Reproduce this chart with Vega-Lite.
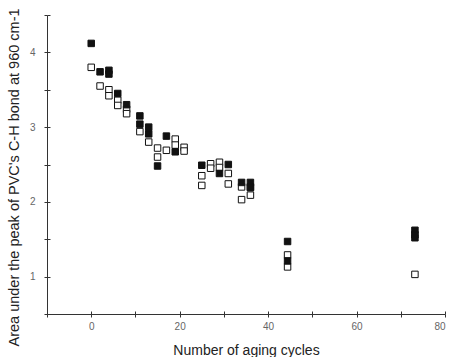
{
  "$schema": "https://vega.github.io/schema/vega-lite/v6.json",
  "width": 398,
  "height": 299,
  "autosize": {"type": "none"},
  "padding": {"left": 47, "top": 15, "right": 6, "bottom": 43},
  "background": "white",
  "config": {
    "view": {"stroke": null},
    "font": "Liberation Sans",
    "axis": {"grid": false, "domainColor": "#333", "tickColor": "#333", "labelColor": "#666", "titleColor": "#222", "labelFont": "Liberation Sans", "titleFont": "Liberation Sans", "titleFontWeight": "normal"}
  },
  "data": {
    "values": [
      {"cycle": 0, "area": 3.80, "type": "open"},
      {"cycle": 2, "area": 3.55, "type": "open"},
      {"cycle": 4, "area": 3.50, "type": "open"},
      {"cycle": 4, "area": 3.42, "type": "open"},
      {"cycle": 6, "area": 3.36, "type": "open"},
      {"cycle": 6, "area": 3.29, "type": "open"},
      {"cycle": 8, "area": 3.24, "type": "open"},
      {"cycle": 8, "area": 3.18, "type": "open"},
      {"cycle": 11, "area": 2.94, "type": "open"},
      {"cycle": 13, "area": 2.80, "type": "open"},
      {"cycle": 15, "area": 2.72, "type": "open"},
      {"cycle": 15, "area": 2.60, "type": "open"},
      {"cycle": 17, "area": 2.69, "type": "open"},
      {"cycle": 19, "area": 2.84, "type": "open"},
      {"cycle": 19, "area": 2.76, "type": "open"},
      {"cycle": 21, "area": 2.73, "type": "open"},
      {"cycle": 21, "area": 2.68, "type": "open"},
      {"cycle": 25, "area": 2.35, "type": "open"},
      {"cycle": 25, "area": 2.22, "type": "open"},
      {"cycle": 27, "area": 2.51, "type": "open"},
      {"cycle": 27, "area": 2.45, "type": "open"},
      {"cycle": 29, "area": 2.53, "type": "open"},
      {"cycle": 29, "area": 2.46, "type": "open"},
      {"cycle": 31, "area": 2.38, "type": "open"},
      {"cycle": 31, "area": 2.24, "type": "open"},
      {"cycle": 34, "area": 2.20, "type": "open"},
      {"cycle": 34, "area": 2.03, "type": "open"},
      {"cycle": 36, "area": 2.20, "type": "open"},
      {"cycle": 36, "area": 2.09, "type": "open"},
      {"cycle": 44.4, "area": 1.29, "type": "open"},
      {"cycle": 44.4, "area": 1.13, "type": "open"},
      {"cycle": 73.2, "area": 1.03, "type": "open"},
      {"cycle": 0, "area": 4.12, "type": "filled"},
      {"cycle": 2, "area": 3.74, "type": "filled"},
      {"cycle": 4, "area": 3.76, "type": "filled"},
      {"cycle": 4, "area": 3.71, "type": "filled"},
      {"cycle": 6, "area": 3.45, "type": "filled"},
      {"cycle": 8, "area": 3.30, "type": "filled"},
      {"cycle": 11, "area": 3.15, "type": "filled"},
      {"cycle": 11, "area": 3.04, "type": "filled"},
      {"cycle": 13, "area": 3.00, "type": "filled"},
      {"cycle": 13, "area": 2.91, "type": "filled"},
      {"cycle": 15, "area": 2.48, "type": "filled"},
      {"cycle": 17, "area": 2.88, "type": "filled"},
      {"cycle": 19, "area": 2.67, "type": "filled"},
      {"cycle": 25, "area": 2.49, "type": "filled"},
      {"cycle": 29, "area": 2.38, "type": "filled"},
      {"cycle": 31, "area": 2.50, "type": "filled"},
      {"cycle": 34, "area": 2.26, "type": "filled"},
      {"cycle": 36, "area": 2.26, "type": "filled"},
      {"cycle": 36, "area": 2.19, "type": "filled"},
      {"cycle": 44.4, "area": 1.47, "type": "filled"},
      {"cycle": 44.4, "area": 1.21, "type": "filled"},
      {"cycle": 73.2, "area": 1.62, "type": "filled"},
      {"cycle": 73.2, "area": 1.56, "type": "filled"},
      {"cycle": 73.2, "area": 1.52, "type": "filled"}
    ]
  },
  "layer": [
    {
      "mark": {"type": "point", "shape": "square", "opacity": 0},
      "encoding": {
        "x": {
          "field": "cycle", "type": "quantitative",
          "scale": {"domain": [-10, 80], "nice": false, "zero": false},
          "axis": {"orient": "bottom", "title": null, "labels": false, "domain": false, "values": [-10, 0, 10, 20, 30, 40, 50, 60, 70, 80], "tickSize": -3}
        },
        "y": {
          "field": "area", "type": "quantitative",
          "scale": {"domain": [0.5, 4.5], "nice": false, "zero": false},
          "axis": {"orient": "left", "title": null, "labels": false, "domain": false, "values": [0.5, 1, 1.5, 2, 2.5, 3, 3.5, 4, 4.5], "tickSize": -3}
        }
      }
    },
    {
      "mark": {"type": "point", "shape": "square", "filled": true, "stroke": "#111", "strokeWidth": 1, "size": 42, "opacity": 1},
      "encoding": {
        "x": {
          "field": "cycle", "type": "quantitative",
          "scale": {"domain": [-10, 80], "nice": false, "zero": false},
          "axis": {"orient": "bottom", "title": "Number of aging cycles", "values": [-10, 0, 10, 20, 30, 40, 50, 60, 70, 80], "labelExpr": "datum.value % 20 == 0 ? format(datum.value, 'd') : ''", "tickSize": 3, "labelFontSize": 10, "titleFontSize": 14, "titleY": 40, "titleBaseline": "alphabetic", "labelPadding": 4}
        },
        "y": {
          "field": "area", "type": "quantitative",
          "scale": {"domain": [0.5, 4.5], "nice": false, "zero": false},
          "axis": {"orient": "left", "title": "Area under the peak of PVC's C-H bond at 960 cm-1", "values": [0.5, 1, 1.5, 2, 2.5, 3, 3.5, 4, 4.5], "labelExpr": "datum.value % 1 == 0 ? format(datum.value, 'd') : ''", "tickSize": 3, "labelFontSize": 10, "titleFontSize": 14.5, "titleX": -33, "titleY": 162, "titleBaseline": "middle", "labelPadding": 9}
        },
        "fill": {
          "field": "type", "type": "nominal",
          "scale": {"domain": ["filled", "open"], "range": ["#111111", "#ffffff"]},
          "legend": null
        }
      }
    }
  ],
  "resolve": {"axis": {"x": "independent", "y": "independent"}}
}
